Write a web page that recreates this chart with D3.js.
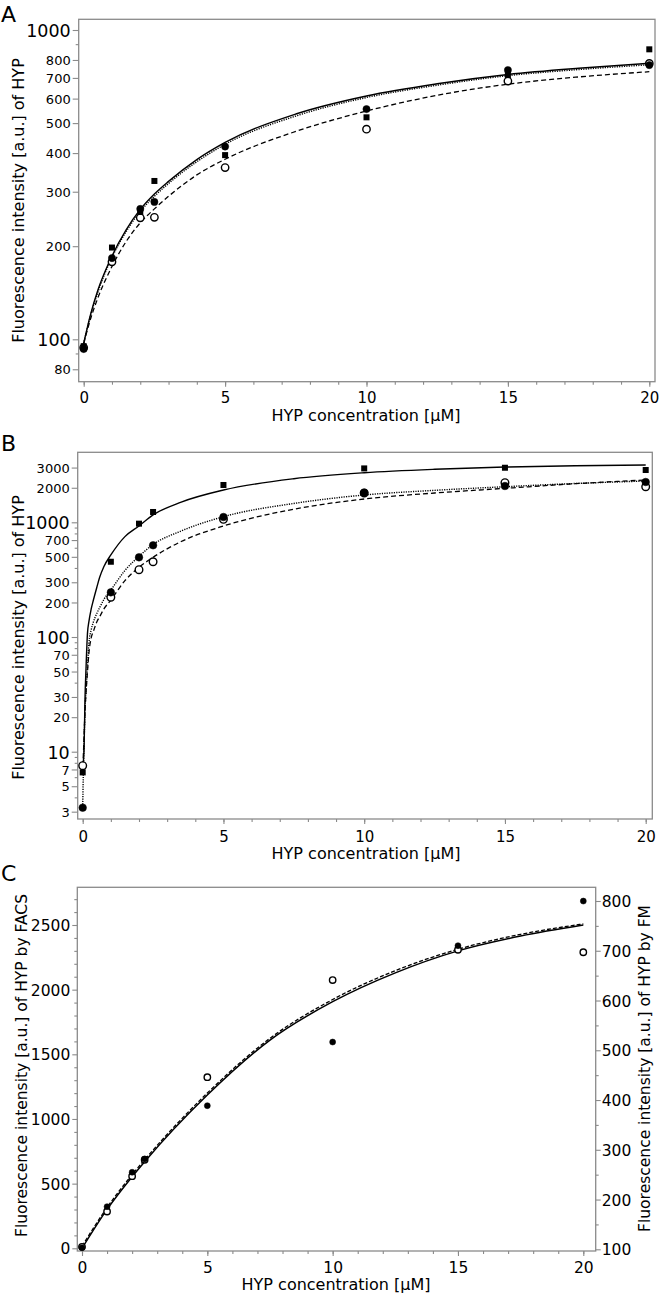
<!DOCTYPE html>
<html><head><meta charset="utf-8">
<script src="https://cdn.jsdelivr.net/npm/d3@7"></script>
<style>
body{margin:0;background:#fff}
text{font-family:"DejaVu Sans",sans-serif;fill:#000}
</style></head>
<body><svg id="chart" width="664" height="1298"></svg>
<script>
// ---------- Panel A data ----------
const concA = [0, 1, 2, 2.5, 5, 10, 15, 20];
const squaresA = [95, 198, 258, 325, 394, 522, 715, 866];
const filledA = [93, 183, 264, 278, 420, 555, 742, 770];
const openA = [94, 178, 247, 248, 359, 478, 684, 780];
const fitXA = [0, 0.25, 0.5, 1, 1.5, 2, 2.5, 3, 4, 5, 7.5, 10, 12.5, 15, 17.5, 20];
const fitSolidA = [97, 121, 144, 186, 226, 263, 295, 324, 381, 433, 535, 612, 670, 718, 752, 780];
const fitDottedA = [97, 120, 142, 184, 223, 259, 290, 319, 375, 427, 527, 605, 663, 712, 745, 772];
const fitDashedA = [97, 117, 136, 172, 207, 238, 264, 290, 340, 382, 470, 547, 615, 668, 705, 733];
const yTicksA = [80, 90, 100, 200, 300, 400, 500, 600, 700, 800, 900, 1000];
const yLabelsA = [80, 100, 200, 300, 400, 500, 600, 700, 800, 1000];

// ---------- Panel B data ----------
const concB = [0, 1, 2, 2.5, 5, 10, 15, 20];
const squaresB = [6.6, 453, 973, 1230, 2115, 2950, 2990, 2857];
const filledB = [3.25, 245, 495, 630, 1112, 1811, 2072, 2245];
const openB = [7.55, 222, 386, 453, 1062, 1800, 2214, 2042];
const fitXB = [0, 0.02, 0.05, 0.08, 0.12, 0.17, 0.22, 0.3, 0.38, 0.5, 0.6, 0.75, 1, 1.5, 2, 2.5, 3.5, 5, 7.5, 10, 12.5, 15, 17.5, 20];
const fitSolidB = [6.9, 8, 11, 28, 55, 108, 136, 175, 210, 270, 330, 410, 519, 750, 929, 1159, 1500, 1912, 2400, 2706, 2900, 3033, 3110, 3160];
const fitDottedB = [3.3, 6, 12, 22, 35, 55, 88, 115, 135, 160, 180, 212, 257, 380, 505, 640, 840, 1119, 1460, 1730, 1900, 2043, 2180, 2290];
const fitDashedB = [7.5, 9, 14, 22, 33, 50, 72, 98, 112, 135, 150, 175, 210, 310, 405, 495, 680, 929, 1300, 1596, 1800, 1977, 2170, 2338];
const yTicksB = [3, 4, 5, 6, 7, 8, 9, 10, 20, 30, 40, 50, 60, 70, 80, 90, 100, 200, 300, 400, 500, 600, 700, 800, 900, 1000, 2000, 3000];
const yLabelsB = [3, 5, 7, 10, 20, 30, 50, 70, 100, 200, 300, 500, 700, 1000, 2000, 3000];

// ---------- Panel C data ----------
const concC = [0, 1, 2, 2.5, 5, 10, 15, 20];
const facsC = [5, 322, 588, 690, 1103, 1595, 2340, 2685];   // filled circles, left axis
const fmC = [105, 176, 247, 280, 446, 641, 702, 697];        // open circles, right axis
const fitXC = [0, 1, 2, 2.5, 5, 7.5, 10, 12.5, 15, 17.5, 20];
const fitFacsC = [0, 301, 554, 670, 1185, 1610, 1907, 2130, 2300, 2415, 2500];
const fitFmC = [106, 184, 250, 280, 414, 524, 602, 660, 703, 733, 754];
const yTicksCL = d3.range(0, 2701, 100);
const yLabelsCL = [0, 500, 1000, 1500, 2000, 2500];
const yTicksCR = d3.range(100, 801, 50);
const yLabelsCR = [100, 200, 300, 400, 500, 600, 700, 800];

const xMajor = [0, 5, 10, 15, 20];
const xMinor = d3.range(0, 21, 1);

const svg = d3.select("#chart");
const GRAY = "#8a8a8a";

function frame(f) {
  svg.append("rect").attr("x", f.l).attr("y", f.t).attr("width", f.r - f.l).attr("height", f.b - f.t)
    .attr("fill", "none").attr("stroke", GRAY).attr("stroke-width", 1.3);
}

function xAxis(x, f, fontSize, labelBase) {
  const gm = svg.append("g").attr("transform", `translate(0,${f.b})`)
    .call(d3.axisBottom(x).tickValues(xMinor).tickSize(3).tickFormat(""));
  const g = svg.append("g").attr("transform", `translate(0,${f.b})`)
    .call(d3.axisBottom(x).tickValues(xMajor).tickSize(5));
  [gm, g].forEach(a => { a.select(".domain").remove(); a.selectAll("line").attr("stroke", GRAY).attr("stroke-width", 1.1); });
  g.selectAll("text").attr("y", labelBase - f.b).attr("dy", 0).attr("font-size", fontSize)
    .style("font-family", "DejaVu Sans");
}

function yAxisLog(y, f, ticks, labels, bigSet) {
  const gm = svg.append("g").attr("transform", `translate(${f.l},0)`)
    .call(d3.axisLeft(y).tickValues(ticks.filter(t => !labels.includes(t))).tickSize(3).tickFormat(""));
  const g = svg.append("g").attr("transform", `translate(${f.l},0)`)
    .call(d3.axisLeft(y).tickValues(labels).tickSize(6).tickPadding(2).tickFormat(d3.format("d")));
  [gm, g].forEach(a => { a.select(".domain").remove(); a.selectAll("line").attr("stroke", GRAY).attr("stroke-width", 1.1); });
  g.selectAll("text").attr("font-size", d => bigSet.includes(d) ? 17.5 : 13).attr("dy", "0.36em")
    .style("font-family", "DejaVu Sans");
}

function curve(x, y, xs, ys, dash, width) {
  const pts = xs.map((v, i) => [v, ys[i]]);
  svg.append("path").datum(pts)
    .attr("d", d3.line().x(d => x(d[0])).y(d => y(d[1])).curve(d3.curveMonotoneX))
    .attr("fill", "none").attr("stroke", "#000").attr("stroke-width", width)
    .attr("stroke-dasharray", dash);
}

function circles(x, y, xs, ys, filled, r) {
  svg.append("g").selectAll("circle").data(xs.map((v, i) => [v, ys[i]])).join("circle")
    .attr("cx", d => x(d[0])).attr("cy", d => y(d[1])).attr("r", r)
    .attr("fill", filled ? "#000" : "#fff").attr("stroke", "#000").attr("stroke-width", filled ? 0.5 : 1.4);
}
function squares(x, y, xs, ys, s) {
  svg.append("g").selectAll("rect").data(xs.map((v, i) => [v, ys[i]])).join("rect")
    .attr("x", d => x(d[0]) - s / 2).attr("y", d => y(d[1]) - s / 2).attr("width", s).attr("height", s)
    .attr("fill", "#000");
}

function vLabel(txt, cx, cy, size) {
  svg.append("text").attr("transform", `translate(${cx},${cy}) rotate(-90)`)
    .attr("text-anchor", "middle").attr("font-size", size).text(txt);
}
function hLabel(txt, cx, by, size) {
  svg.append("text").attr("x", cx).attr("y", by).attr("text-anchor", "middle").attr("font-size", size).text(txt);
}
function panelLetter(txt, bx, by) {
  svg.append("text").attr("x", bx).attr("y", by).attr("font-size", 22).text(txt);
}

// ================= Panel A =================
{
  const f = { l: 78.7, t: 19.3, r: 655, b: 381.7 };
  const x = d3.scaleLinear().domain([0, 20]).range([83.7, 649.3]);
  const y = d3.scaleLog().domain([100, 1000]).range([339.3, 30]);
  frame(f);
  xAxis(x, f, 15, 403);
  yAxisLog(y, f, yTicksA, yLabelsA, [100, 1000]);
  curve(x, y, fitXA, fitSolidA, null, 1.4);
  curve(x, y, fitXA, fitDottedA, "1.2,1.2", 1.4);
  curve(x, y, fitXA, fitDashedA, "5,3", 1.3);
  circles(x, y, concA, openA, false, 3.7);
  circles(x, y, concA, filledA, true, 3.6);
  squares(x, y, concA, squaresA, 6);
  hLabel("HYP concentration [μM]", 366, 421, 16);
  vLabel("Fluorescence intensity [a.u.] of HYP", 24, 200.5, 16);
  panelLetter("A", 1, 22);
}

// ================= Panel B =================
{
  const f = { l: 77.7, t: 452.3, r: 652.3, b: 819 };
  const x = d3.scaleLinear().domain([0, 20]).range([82.7, 645.7]);
  const y = d3.scaleLog().domain([10, 1000]).range([751.7, 522.3]);
  frame(f);
  xAxis(x, f, 15, 841.7);
  yAxisLog(y, f, yTicksB, yLabelsB, [10, 100, 1000]);
  curve(x, y, fitXB, fitSolidB, null, 1.4);
  curve(x, y, fitXB, fitDottedB, "1.2,1.2", 1.4);
  curve(x, y, fitXB, fitDashedB, "5,3", 1.3);
  circles(x, y, concB, openB, false, 3.8);
  circles(x, y, concB, filledB, true, 3.8);
  squares(x, y, concB, squaresB, 6);
  hLabel("HYP concentration [μM]", 366, 859, 16);
  vLabel("Fluorescence intensity [a.u.] of HYP", 24, 637.5, 16);
  panelLetter("B", 1, 451);
}

// ================= Panel C =================
{
  const f = { l: 77.3, t: 887.3, r: 595.7, b: 1251 };
  const x = d3.scaleLinear().domain([0, 20]).range([82, 583.3]);
  const yL = d3.scaleLinear().domain([0, 2500]).range([1248.3, 925]);
  const yR = d3.scaleLinear().domain([100, 800]).range([1249.3, 901]);
  frame(f);
  xAxis(x, f, 15.5, 1273.3);
  const glm = svg.append("g").attr("transform", `translate(${f.l},0)`)
    .call(d3.axisLeft(yL).tickValues(yTicksCL.filter(t => !yLabelsCL.includes(t))).tickSize(3).tickFormat(""));
  const gl = svg.append("g").attr("transform", `translate(${f.l},0)`)
    .call(d3.axisLeft(yL).tickValues(yLabelsCL).tickSize(5).tickPadding(2).tickFormat(d3.format("d")));
  const grm = svg.append("g").attr("transform", `translate(${f.r},0)`)
    .call(d3.axisRight(yR).tickValues(yTicksCR.filter(t => !yLabelsCR.includes(t))).tickSize(3).tickFormat(""));
  const gr = svg.append("g").attr("transform", `translate(${f.r},0)`)
    .call(d3.axisRight(yR).tickValues(yLabelsCR).tickSize(5).tickPadding(1).tickFormat(d3.format("d")));
  [glm, gl, grm, gr].forEach(a => { a.select(".domain").remove(); a.selectAll("line").attr("stroke", GRAY).attr("stroke-width", 1.1); });
  [gl, gr].forEach(a => a.selectAll("text").attr("font-size", 15.5).attr("dy", "0.36em").style("font-family", "DejaVu Sans"));
  curve(x, yL, fitXC, fitFacsC, null, 1.5);
  curve(x, yR, fitXC, fitFmC, "4,2", 1.3);
  circles(x, yR, concC, fmC, false, 3.2);
  circles(x, yL, concC, facsC, true, 3);
  hLabel("HYP concentration [μM]", 336, 1290, 16);
  vLabel("Fluorescence intensity [a.u.] of HYP by FACS", 26.5, 1065.5, 15.5);
  vLabel("Fluorescence intensity [a.u.] of HYP by FM", 650, 1068.5, 15.5);
  panelLetter("C", 1, 881);
}
</script></body></html>
